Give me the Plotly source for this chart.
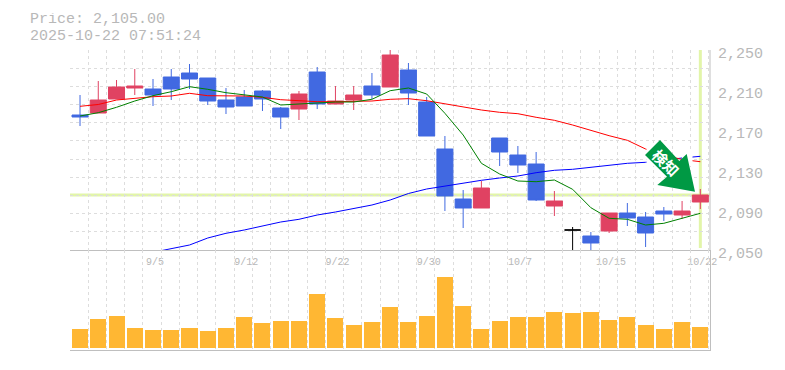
import plotly.graph_objects as go

idx = list(range(35))

high = [2205,2219,2220,2231,2221,2231,2236,2222,2212,2210,2210,2193,2209,2233,2214,2214,2227,2250,2237,2203,2164,2110,2119,2162,2154,2148,2109,2073,2068,2087,2097,2088,2093,2099,2111]
low = [2174,2187,2201,2205,2194,2200,2211,2195,2186,2194,2189,2171,2180,2191,2196,2190,2201,2213,2195,2164,2089,2072,2092,2134,2127,2099,2084,2050,2050,2067,2074,2053,2079,2081,2091]
open_ = [2185,2187,2201,2212,2211,2223,2227,2222,2200,2203,2209,2192,2191,2228,2196,2200,2214,2213,2230,2198,2151,2101,2092,2162,2145,2136,2094,2070,2064,2069,2087,2083,2089,2085,2098]
close = [2183,2200,2213,2214,2205,2211,2221,2199,2193,2194,2201,2183,2206,2196,2199,2205,2205,2245,2207,2164,2104,2092,2112,2148,2135,2100,2099,2070,2057,2087,2082,2067,2086,2089,2105]

ma_short = [2184,2187.3,2192.7,2199,2204.3,2208.3,2213.3,2210.7,2207.3,2205,2203,2195,2196,2197,2198,2198,2200.7,2209.3,2212,2206,2186.7,2165,2136.7,2126,2119,2118.3,2120,2110.7,2092.3,2081.7,2080.7,2075,2076.7,2081.7,2086.7]
ma_mid = [2193.7,2195.5,2200,2202,2203.3,2204,2206.7,2204.3,2204.3,2204,2202.7,2200.3,2199.3,2198.3,2198.3,2198.7,2199,2200.7,2201.3,2199.3,2196,2193.3,2190,2187.7,2186.3,2182.7,2179.7,2175,2169.3,2164.3,2159.7,2151,2145,2140.5,2138.3]
ma_long = [None,None,None,None,2047.7,2051,2055,2062,2066.7,2070,2074,2078,2080.7,2085,2088,2091.7,2095,2100,2106.5,2111,2114,2117,2119.7,2122,2124,2127.3,2129.7,2130.7,2132.7,2135,2136.7,2137.7,2140,2142,2143.7]
volume = [19,29,32,20,18,18,20,17,20,31,25,27,27,54,30,23,26,41,26,32,71,42,19,27,31,31,36,35,36,28,31,23,19,26,21]

tick_idx = [4,9,14,19,24,29,34]
tick_text = ["9/5","9/12","9/22","9/30","10/7","10/15","10/22"]
price_ticks = [2050,2090,2130,2170,2210,2250]
price_text = ["2,050","2,090","2,130","2,170","2,210","2,250"]
last_price = 2105

UP, DOWN, DOJI = "#E04262", "#4169E1", "#000000"
GRID, AXIS, TEXT = "#DDDDDD", "#BFBFBF", "#B8B8B8"
HILITE = "#E2F5A9"
MONO = "Liberation Mono"
BODY = 16 / 18.235

PAGE = 8  # page margin of the browser body
W, H = 777, 362
L, R, T, B = 62, 75, 42, 20
PW, PH = W - L - R, H - T - B
Y_SPLIT = 100 / 300

reg = [i for i in idx if open_[i] != close[i]]
doj = [i for i in idx if open_[i] == close[i]]

fig = go.Figure()
for vals, col, w in [(ma_long, "#0000FF", 1), (ma_mid, "#FF0000", 1), (ma_short, "#008000", 1)]:
    fig.add_trace(go.Scatter(x=idx, y=vals, mode="lines", line=dict(color=col, width=w),
                             cliponaxis=False, showlegend=False, hoverinfo="skip"))

fig.add_trace(go.Candlestick(
    x=reg, open=[open_[i] for i in reg], high=[high[i] for i in reg],
    low=[low[i] for i in reg], close=[close[i] for i in reg], whiskerwidth=0,
    increasing=dict(line=dict(color=UP, width=1), fillcolor=UP),
    decreasing=dict(line=dict(color=DOWN, width=1), fillcolor=DOWN),
    showlegend=False))
fig.add_trace(go.Candlestick(
    x=doj, open=[open_[i] for i in doj], high=[high[i] for i in doj],
    low=[low[i] for i in doj], close=[close[i] for i in doj], whiskerwidth=0,
    increasing=dict(line=dict(color=DOJI, width=1), fillcolor=DOJI),
    decreasing=dict(line=dict(color=DOJI, width=1), fillcolor=DOJI),
    showlegend=False))
fig.add_trace(go.Bar(x=idx, y=volume, width=BODY, marker=dict(color="#FFB733", line=dict(width=0)),
                     xaxis="x2", yaxis="y2", showlegend=False, hoverinfo="skip"))

minor_x = dict(tick0=-0.55, dtick=1, showgrid=True, gridcolor=GRID, griddash="3px,3px", gridwidth=1, ticklen=0)
x_range = [-0.55, 34.53]

fig.update_layout(
    width=W, height=H, margin=dict(l=L, r=R, t=T, b=B, autoexpand=False),
    paper_bgcolor="white", plot_bgcolor="white", bargap=0, boxgap=1 - BODY, boxgroupgap=0, boxmode="overlay",
    font=dict(family=MONO, color=TEXT),
    xaxis=dict(domain=[0, 1], range=x_range, anchor="y", tickmode="array", tickvals=tick_idx, ticktext=tick_text,
               tickfont=dict(size=10, color=TEXT, family=MONO), ticks="", showgrid=False, minor=minor_x,
               showline=True, linecolor=AXIS, linewidth=1, rangeslider=dict(visible=False), zeroline=False,
               ticklabelshift=2, ticklabelstandoff=2),
    yaxis=dict(domain=[Y_SPLIT, 1], range=[2050, 2250], side="right", anchor="x", tickmode="array",
               tickvals=price_ticks, ticktext=price_text, tickfont=dict(size=15, color=TEXT, family=MONO),
               ticks="", showgrid=False, zeroline=False, showline=False, ticklabelstandoff=7, ticklabelshift=3,
               minor=dict(tick0=2050, dtick=200 / 11, showgrid=True, gridcolor=GRID, griddash="3px,3px", gridwidth=1, ticklen=0)),
    xaxis2=dict(domain=[0, 1], range=x_range, anchor="y2", showticklabels=False, ticks="", showgrid=False, minor=minor_x,
                showline=True, linecolor=AXIS, linewidth=1, zeroline=False),
    yaxis2=dict(domain=[0, Y_SPLIT], range=[-2, 98], side="right", anchor="x2", showticklabels=False, ticks="",
                showgrid=False, zeroline=False, showline=True, linecolor=AXIS, linewidth=1),
)

fig.add_shape(type="line", xref="paper", yref="paper", x0=1, x1=1, y0=Y_SPLIT, y1=1,
              line=dict(color=AXIS, width=1), layer="above")
fig.add_shape(type="line", xref="paper", yref="y", x0=0, x1=1, y0=last_price, y1=last_price,
              line=dict(color=HILITE, width=3), layer="below")
fig.add_shape(type="line", xref="x", yref="y", x0=34, x1=34, y0=2052, y1=2250,
              line=dict(color=HILITE, width=3), layer="below")

def px(x, y):
    return (x - PAGE - L) / PW, 1 - (y - PAGE - T) / PH

# white patches: the averages stop around the badge
for x0, y0, x1, y1 in [(646.5, 146, 656, 166), (682, 150, 692.5, 166)]:
    a0, b0 = px(x0, y0)
    a1, b1 = px(x1, y1)
    fig.add_shape(type="rect", xref="paper", yref="paper", x0=a0, x1=a1, y0=b0, y1=b1,
                  fillcolor="white", line=dict(width=0), layer="above")

arrow_pts = [(660,140),(645,155),(667,176.7),(657.3,185),(695,191.7),(686.7,154),(679.3,161)]
path = "M " + " L ".join("%.5f,%.5f" % px(*p) for p in arrow_pts) + " Z"
fig.add_shape(type="path", xref="paper", yref="paper", path=path, fillcolor="#009944",
              line=dict(width=0), layer="above")
ax, ay = px(666, 162.5)
fig.add_annotation(xref="paper", yref="paper", x=ax, y=ay, xanchor="center", yanchor="middle",
                   text="<b>検知</b>", textangle=45, showarrow=False,
                   font=dict(size=15, color="white", family="Noto Sans CJK JP"))

for text, y in [("Price: 2,105.00", 19), ("2025-10-22 07:51:24", 36.5)]:
    xx, yy = px(29, y)
    fig.add_annotation(xref="paper", yref="paper", x=xx, y=yy, xanchor="left", yanchor="middle", text=text,
                       showarrow=False, height=13, borderpad=0, font=dict(size=15, color=TEXT, family=MONO))

fig.write_html("out.html")
